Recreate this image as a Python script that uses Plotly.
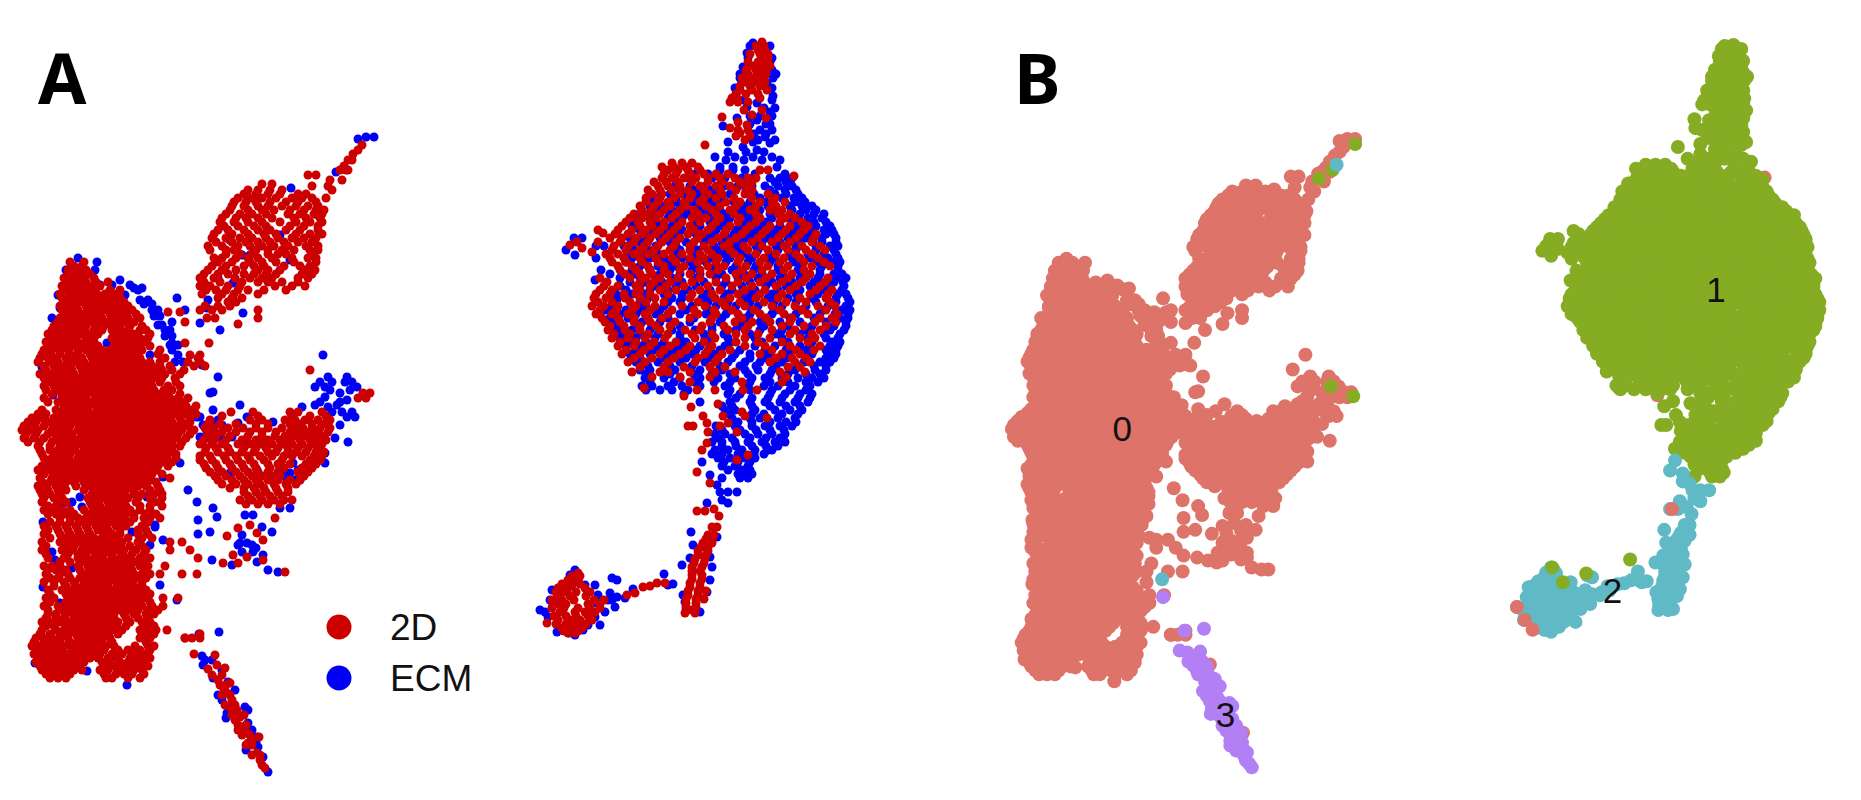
import plotly.graph_objects as go

# Embedding values. Rows are (embedding_2, [embedding_1 values]).
# Cluster 0, sample 2D
c0_2d_rows = [
(262,[70,84]),(270,[68,76,86]),(278,[64,74,84,94]),(286,[62,72,80,90,100]),
(294,[60,70,78,88,97,105,114]),(302,[64,72,80,90,98,106,116,124]),
(310,[62,70,78,88,96,104,114,122,132]),(318,[60,68,78,86,94,102,112,120,128,140]),
(326,[54,62,70,78,86,96,104,112,120,130,142]),(334,[48,56,64,72,82,90,98,116,124,134,150]),
(342,[46,54,62,70,78,86,94,118,126,134,144]),(350,[44,52,60,68,78,86,94,102,110,118,126,134,142,160]),
(358,[40,48,56,66,74,82,92,100,108,116,124,132,140,165,198]),
(366,[44,54,62,70,80,88,96,104,112,120,128,136,144,152,160,170,194,205]),
(374,[40,50,58,66,74,84,92,100,108,116,124,132,140,148,156,165,180]),
(382,[50,58,68,76,84,92,100,110,118,126,134,142,150,160,176]),
(390,[46,58,66,74,82,90,98,106,114,122,130,138,146,154,164,172]),
(398,[44,62,70,78,86,96,104,112,120,128,136,144,152,162,170,178,188]),
(406,[64,72,80,88,96,104,112,120,128,136,144,152,160,170,178,186,196]),
(414,[38,46,60,68,76,84,92,100,108,116,124,132,140,148,158,166,176,186,196]),
(422,[28,36,48,58,66,74,82,92,100,108,116,124,132,140,148,156,164,172,182,190]),
(430,[22,30,38,52,60,68,78,86,94,102,110,118,126,134,142,150,158,166,174,182,194]),
(438,[24,34,44,56,64,72,80,88,96,104,112,120,128,136,144,152,160,168,176,186]),
(446,[38,50,60,68,76,84,92,100,108,116,124,132,140,148,156,164,172,180]),
(454,[42,54,62,70,80,88,96,104,112,120,128,136,144,152,160,168,176]),
(462,[46,56,64,74,82,90,98,106,114,122,130,138,146,154,162,172]),
(470,[38,48,58,66,76,84,92,100,108,116,124,132,140,148,156]),
(478,[40,52,60,68,78,86,94,102,110,118,126,134,142,150,170]),
(486,[38,46,56,64,76,90,98,106,114,122,130,138,146,158]),
(494,[42,50,60,92,100,108,116,124,134,142,154,162]),
(502,[42,58,66,90,98,108,116,124,136,154,160]),
(510,[44,52,62,70,84,94,104,112,122,130,140,150]),
(518,[60,70,78,86,96,106,114,124,134,144,150,160]),
(526,[44,56,66,76,86,96,104,116,126,142]),
(534,[44,60,70,80,90,104,112,120,138,148]),
(542,[42,60,70,78,88,98,106,114,122,138,170,182]),
(550,[42,62,72,82,90,100,108,116,124,136,146,170,190]),
(558,[48,64,78,86,94,102,112,120,128,140,150,198]),
(566,[44,52,60,78,88,96,104,112,120,130,140,148,165]),
(574,[46,60,68,84,92,100,110,118,126,134,142,150,160,182,197]),
(582,[44,54,64,74,84,92,100,108,116,124,132,142]),
(590,[48,62,70,80,88,96,104,112,120,130,138,146]),
(598,[46,54,70,78,86,94,102,110,118,128,136,144,163,178]),
(606,[44,58,68,76,84,92,100,108,116,126,134,142,152,163]),
(614,[48,56,66,74,82,90,98,106,114,124,134,146,154]),
(622,[42,50,60,70,78,86,94,102,110,118,130,142,150]),
(630,[42,56,64,72,80,88,96,104,112,122,140,148,156,167]),
(638,[36,44,52,60,68,78,86,94,102,110,140,150,185,200]),
(646,[32,40,48,56,64,74,82,90,98,106,114,135,148,154]),
(654,[34,42,50,58,66,76,84,92,100,112,122,134,144]),
(662,[36,44,52,60,68,76,84,102,110,120,128,136,146]),
(670,[42,50,58,66,74,82,100,108,118,126,134,142]),
(678,[50,58,66,106,112,128,140]),
# lower right arm
(370,[310]),(393,[363,370]),(398,[358,366]),
(412,[231,253,290,298,322]),(420,[210,250,262,285,295,305,318,330]),
(428,[205,214,228,243,256,268,282,294,303,312,320,330]),
(436,[207,216,230,248,262,275,285,296,305,314,322]),
(444,[200,212,222,238,250,262,272,283,292,302,312,322]),
(452,[205,218,230,242,254,268,276,288,296,306,316,324]),
(460,[200,212,226,238,250,264,282,310,320]),
(468,[206,218,232,244,256,270,284,302,312]),
(476,[215,226,240,252,262,272,280,304]),
(484,[222,236,248,260,274,286,296]),(492,[244,256,266,278,288]),(500,[240,252,262,274,284,292]),
(518,[275]),(525,[250]),(528,[238]),(533,[257]),(536,[227]),(540,[263]),
(555,[233]),(557,[247]),(560,[263]),(563,[223,238]),(572,[285]),
# upper lobe and its tail
(145,[362]),(154,[353]),(166,[344]),(175,[308,316]),(184,[262,272]),(190,[248,258,270,282,332]),
(198,[238,250,262,276,292,302,312,326]),(206,[232,244,258,268,282,296,308,318]),
(214,[226,240,252,266,288,300,314,322]),(222,[220,234,248,262,280,296,310,322]),
(230,[218,228,244,258,270,286,300,318]),(238,[212,226,240,252,266,278,292,304,316]),
(246,[208,222,238,250,262,274,288,306,318]),(254,[226,240,252,268,278,286,312]),
(262,[218,232,250,262,276,294,316]),(270,[208,222,236,258,268,280,305,315]),
(278,[200,214,235,250,262,272,298,308]),(286,[200,210,228,240,275,292,305]),
(294,[202,222,234,258]),(302,[228,236]),(310,[200,212,222,258]),(318,[207,215,258]),
(312,[168,180]),(322,[185]),(324,[238]),(343,[185,209]),(355,[190,200]),
(634,[200]),(638,[185,192]),
# cells of this cluster lying inside the other clusters
(668,[225]),(737,[259]),(176,[794]),(388,[644]),(396,[684]),
]
c0_2d_between = [
(266,[74,82]),(274,[70,80,90]),(282,[68,78,86,96,108]),(290,[66,75,84,93,110,120]),
(298,[62,68,76,85,94,102,112,120]),(306,[60,68,76,86,94,102,110,120,128]),
(314,[66,74,84,92,100,110,118,126,136]),(322,[58,66,74,82,90,100,108,116,124,134]),
(330,[52,60,68,76,84,94,102,112,120,128,140,146]),(338,[50,60,68,76,86,94,112,120,130,140,148]),
(346,[48,58,66,74,82,90,98,114,122,130,140,150]),(354,[42,50,60,70,78,90,98,106,114,122,130,138,158]),
(362,[38,50,58,68,76,84,94,102,110,118,126,134,142,150,160,188,200]),
(370,[46,56,64,72,82,90,98,106,114,122,130,138,146,154,162,172,184]),
(378,[44,54,62,72,80,88,96,104,114,122,130,138,146,154,162,175]),
(386,[44,54,62,72,80,88,96,104,112,120,128,136,144,152,168,180]),
(394,[52,62,70,78,86,94,102,110,118,126,134,142,150,158,168,180]),
(402,[48,58,66,74,82,92,100,108,116,124,132,140,148,156,166,174,184]),
(410,[42,56,64,72,80,88,98,106,114,122,130,138,146,154,164,172,182,192]),
(418,[32,42,54,62,70,78,88,96,104,112,120,128,136,144,152,162,170,180,190]),
(426,[24,34,44,54,62,70,80,88,96,104,112,120,128,136,144,152,160,170,178,188]),
(434,[26,36,48,56,64,72,82,90,98,106,114,122,130,138,146,154,162,170,178,190]),
(442,[28,40,52,60,68,76,84,92,100,108,116,124,132,140,148,156,164,172,182]),
(450,[40,50,58,66,74,84,92,100,108,116,124,132,140,148,156,164,172]),
(458,[44,52,60,68,78,86,94,102,110,118,126,134,142,150,158,166,176]),
(466,[42,52,60,70,78,86,94,102,110,118,126,134,142,150,158,168]),
(474,[44,54,62,72,80,88,96,104,112,120,128,136,144,152,162]),
(482,[42,50,58,66,74,84,92,100,108,116,124,132,140,148,156]),
(490,[40,48,58,66,84,94,102,110,118,126,134,150,160]),
(498,[44,54,62,88,96,104,112,120,128,138,150,162]),(506,[48,56,92,100,110,118,126,140,150,162]),
(514,[48,56,64,74,90,100,108,118,126,134,146,156]),(522,[50,60,70,80,90,100,110,120,130,148]),
(530,[48,58,68,78,88,98,108,120,138,146]),(538,[50,64,74,84,94,102,110,118,128,142,152]),
(546,[46,66,74,84,94,102,110,118,130,142]),(554,[46,68,78,86,96,104,112,122,132,144]),
(562,[60,70,82,90,98,106,116,124,134,144]),(570,[48,56,66,80,90,98,106,116,124,132,146]),
(578,[50,58,70,80,88,96,104,114,122,130,138,146]),(586,[54,66,76,84,92,100,108,118,126,134,142]),
(594,[50,66,74,84,92,100,108,116,124,134,142,150]),(602,[50,66,74,82,90,98,106,114,122,132,140,150]),
(610,[48,62,72,80,88,96,104,112,120,130,138,148,158]),(618,[46,56,64,74,82,90,98,106,114,126,138,148]),
(626,[46,54,66,74,82,90,98,106,116,126,144,154]),(634,[40,50,60,68,76,84,92,100,108,118,144,154]),
(642,[34,44,52,60,70,78,86,94,102,112,146]),(650,[36,46,54,62,72,80,88,96,104,118,128,140,150]),
(658,[38,46,54,62,72,80,90,98,108,118,130,140,150]),(666,[40,48,56,64,72,80,104,114,124,132,140,148]),
(674,[46,54,62,70,104,116,124,132,144]),
(416,[222,258,292,310,326]),(424,[208,220,236,256,268,290,300,312,324]),
(432,[210,222,236,250,262,276,290,300,310,318,328]),(440,[204,214,226,242,256,268,280,290,300,310,318,326]),
(448,[206,216,228,244,256,266,278,288,298,308,318]),(456,[200,210,224,236,248,260,272,284,292,302,314,322]),
(464,[204,216,230,242,254,268,278,290,306,316]),(472,[210,222,236,248,258,268,278,298,308]),
(480,[218,232,244,256,268,278,290,300]),(488,[230,244,254,264,276,288]),(496,[248,260,270,282]),(504,[246,258,268,280]),
(150,[358]),(160,[348,352]),(170,[340,348,346]),(180,[330,342]),(186,[328,312]),
(194,[244,256,268,280,298,306]),(202,[234,246,256,270,286,298,316]),(210,[230,248,262,274,290,304,316,324]),
(218,[222,236,246,258,272,294,306,320]),(226,[224,238,254,266,290,304,318]),(234,[214,232,248,264,276,296,310,322]),
(242,[216,232,246,258,270,284,298,312]),(250,[210,226,234,256,268,282,294,310,318]),
(258,[214,222,236,248,258,272,292,308,316]),(266,[212,226,244,254,264,284,300,310]),
(274,[204,218,228,244,254,266,276,302,312]),(282,[204,220,242,258,268,282,298]),
(290,[206,216,226,238,248,264,286]),(298,[218,232,242]),(306,[205,218,230]),
]
# Cluster 0, sample ECM
c0_ecm_rows = [
(137,[366,374]),(139,[358]),(172,[336]),(188,[291]),(214,[315]),(235,[280]),(240,[230]),
(255,[242,250]),(258,[78]),(260,[290]),(262,[97]),(270,[66,95]),(278,[218]),(280,[70,120]),
(283,[233]),(285,[100,112,130]),(290,[138]),(295,[58,125]),(298,[177]),(300,[140,148,208]),
(308,[207,60]),(310,[152,158,185]),(313,[243]),(318,[52]),(322,[172]),(323,[200]),(330,[165,170,220]),
(343,[107,172]),(345,[170,178]),(355,[150,323]),(362,[175,183]),(365,[202]),(367,[42]),(377,[218,328,347]),
(387,[315,325,357]),(392,[213]),(393,[340,210]),(395,[53]),(397,[325]),(400,[347]),
(405,[240,315,337]),(407,[302,328]),(410,[213]),(417,[197,200,247,347,355]),(420,[218]),(423,[238]),
(422,[273]),(433,[207,215]),(437,[200,208]),(438,[335]),(440,[245]),(442,[348]),
(453,[325]),(460,[320]),(463,[180,293,325]),(470,[257]),(473,[230,290]),(475,[283]),(477,[163]),(480,[287]),
(490,[188]),(497,[80,147]),(502,[197,72]),(503,[64]),(507,[82]),(508,[213,280,290]),(515,[245,253]),
(517,[217]),(520,[198]),(522,[43]),(525,[155]),(527,[155,262]),(532,[132,210,272]),(534,[198]),
(540,[163]),(543,[240,247]),(545,[150]),(552,[52,242,253]),(555,[263]),(560,[55,212]),(562,[257]),
(565,[232]),(568,[72]),(570,[268]),(572,[278]),(585,[160]),(587,[43]),(603,[60]),
(645,[70]),(657,[113]),(663,[35]),(671,[87]),(685,[127]),
(288,[134,142]),(304,[144,152]),(316,[154,160]),(325,[158,162]),(336,[165,172]),(350,[172]),(355,[178]),
(382,[320,332,352,345]),(390,[330,350]),(402,[340,320]),(412,[332,342,352]),(425,[340,203,222,212]),
(437,[220,232]),(480,[295,300]),(470,[298,280]),(545,[238,252]),(535,[242]),(548,[256]),
]
# Cluster 1, sample 2D
c1_2d_rows = [
(42,[762]),(50,[758,765]),(58,[762,768]),(66,[752,762,770]),(74,[748,758,766]),(82,[745,755,765]),
(90,[740,752,767]),(98,[737,732,760]),(115,[752]),(117,[722]),(118,[766]),(125,[747]),(128,[730]),(133,[740]),
(140,[745]),(145,[705]),(163,[672,682,692]),(170,[668,678,688,700,760,768]),
(178,[662,672,684,696,708,720,735,748,756]),(186,[658,668,680,700,716,730,745]),
(194,[652,662,680,692,708,722,745,768]),(202,[646,658,668,684,700,726,740,760,772,785]),
(210,[642,652,664,680,694,712,730,750,770,782]),(218,[630,642,656,672,692,706,720,740,760,785,795]),
(226,[622,640,652,664,678,690,712,730,750,770,790,808]),(230,[598]),(233,[603]),
(234,[615,628,642,656,670,688,702,724,742,762,782,800,816]),
(242,[577,598,620,634,648,662,676,694,712,730,752,772,790,812]),(245,[570]),(248,[582]),
(250,[612,626,640,654,670,690,708,730,748,768,788,806,825]),(252,[592]),
(258,[610,624,640,656,672,690,704,718,740,764,784,800,818]),
(266,[618,632,648,664,684,708,724,746,768,788,812,830]),
(274,[625,640,652,668,690,710,736,752,772,792,810]),
(282,[607,640,654,670,692,716,738,760,782,802,825]),
(290,[600,612,640,660,676,700,720,745,765,790,816,832]),
(298,[594,606,625,640,655,690,715,730,756,778,800,826]),
(306,[592,604,618,636,655,682,705,725,745,772,795,818,835]),
(314,[596,612,628,645,668,698,716,738,760,784,808,837]),
(322,[605,620,634,650,675,710,735,752,770,790,815,836]),
(330,[608,625,640,660,685,700,728,745,772,795,820]),
(338,[612,628,645,665,695,715,745,770,800,815]),
(346,[618,634,650,670,690,712,745,765,790,820]),
(354,[622,640,660,680,705,722,760,782,800]),(362,[628,645,668,695,715,770,795,810]),
(372,[632,660,668,690,715,735,780,805]),(382,[690,742,782]),(390,[697,715,743,757]),
(404,[718]),(407,[691]),(412,[742]),(416,[703,723,745]),(418,[767]),(423,[707,728]),(426,[688,693,720]),
(432,[737,708]),(443,[707]),(450,[702]),(455,[748]),(460,[737]),
]
c1_2d_between = [
(46,[756,764]),(54,[750,760,768]),(62,[748,758,768]),(70,[746,756,764]),(78,[742,752,762]),(86,[740,750,760]),
(94,[736,746,758]),(102,[730,738,748]),(110,[744,762]),(122,[738]),(130,[738,748]),(136,[736,750]),
(167,[662,674,686,698]),(174,[664,676,690,704,716,728]),(182,[654,666,678,692,708,722,740,752]),
(190,[648,660,672,688,704,720,736,752]),(198,[646,660,674,690,704,716,734,752,775]),
(206,[640,654,670,686,706,720,736,756,776]),(214,[634,648,660,676,698,716,734,756,778,790]),
(222,[626,638,650,664,682,700,716,738,756,780,802]),(230,[618,632,646,660,674,694,708,726,746,766,786,804]),
(238,[610,622,636,650,666,680,698,718,736,758,778,796,814]),(246,[614,628,644,658,674,690,704,724,744,762,784,802,820]),
(254,[606,618,634,648,664,682,700,712,734,756,776,796,812]),(262,[612,626,642,658,676,698,716,738,760,780,804,824]),
(270,[620,636,650,664,680,700,718,742,762,784,804]),(278,[600,630,646,660,678,700,726,746,766,788,806,828]),
(286,[604,618,636,650,666,684,708,732,752,776,796,820]),(294,[596,610,624,636,650,668,692,712,738,760,782,810,828]),
(302,[598,612,630,646,664,698,722,740,764,786,806,830]),(310,[600,616,632,650,672,694,714,732,754,780,802,826]),
(318,[602,618,634,648,662,690,712,742,766,792,820,832]),(326,[610,624,640,656,670,702,724,748,782,804,826]),
(334,[614,630,648,668,692,712,736,758,790,812]),(342,[620,636,654,676,704,736,758,782,808]),
(350,[626,644,664,686,708,730,772,796,814]),(358,[634,652,674,698,718,776,792,806]),
(367,[640,664,684,710,725,788,800]),(377,[652,680,710,786]),
]
# Cluster 1, sample ECM
c1_ecm_rows = [
(43,[753]),(53,[747]),(62,[770]),(67,[743]),(70,[772]),(78,[773,740]),(83,[767]),(96,[773]),(103,[757]),
(107,[747]),(112,[770]),(118,[737]),(120,[757]),(126,[723]),(130,[760,772]),(137,[765]),(142,[753,728]),
(143,[770]),(147,[743]),(150,[757]),(157,[753,735,772,715]),(167,[720,733,777]),
(170,[720,733,745]),(178,[690,712,725,742,770,780,792]),(186,[675,690,706,724,738,752,765,778,792]),
(194,[670,686,700,714,730,754,775,786,798]),(202,[650,676,692,706,716,734,750,766,795,805]),
(210,[660,672,688,702,720,740,760,776,792,806,816]),(218,[650,668,682,700,714,730,750,772,790,808,822]),
(226,[632,660,672,700,722,740,760,780,800,816,830]),(234,[650,664,678,696,712,734,752,772,792,808,826,834]),
(238,[582,574]),(242,[640,670,686,704,722,742,762,780,800,822,836]),(246,[596,604]),
(250,[634,648,680,698,718,740,758,778,796,816,834,566]),(255,[575]),(258,[632,650,664,682,698,712,730,752,774,792,810,828,838,596]),
(266,[640,658,676,696,716,736,756,778,800,822,838]),(270,[601]),(280,[595]),
(274,[610,634,660,680,700,722,744,762,782,802,820,834,842]),(282,[630,646,662,682,704,726,750,772,792,814,834,843]),
(290,[626,650,668,688,710,732,755,778,800,824,842]),(298,[618,648,672,682,702,724,744,768,788,812,836,848]),
(306,[612,646,664,692,716,736,758,782,806,828,846]),(314,[620,636,656,680,706,726,750,772,796,820,835,848]),
(322,[612,642,660,690,720,744,760,780,800,826,846]),(330,[616,632,650,672,695,712,736,760,782,806,830,844]),
(338,[620,636,655,680,705,728,755,782,808,826,838]),(346,[626,642,660,680,700,725,755,775,800,810,830,838]),
(354,[630,650,670,692,714,735,750,770,790,812,832,836]),(362,[636,658,680,705,728,745,760,782,804,820,830]),
(370,[640,650,675,700,722,745,758,772,795,815,826]),(378,[645,664,680,700,718,735,752,765,782,798,812,824]),
(386,[642,652,668,682,700,725,748,764,778,795,810]),(394,[684,728,740,770,785,800,812]),
(402,[700,730,750,765,780,795,808]),(410,[725,735,755,775,790,802]),(418,[732,750,760,778,795]),
(426,[716,735,752,765,780,792]),(434,[715,725,745,758,772,785]),(442,[712,722,735,748,762,775,785]),
(450,[715,728,742,755,768,772]),(458,[718,730,745,755]),(466,[722,735,748]),(474,[738,745,752]),
]
c1_ecm_between = [
(46,[750,770]),(58,[748,772]),(74,[776,740]),(88,[772,735]),(100,[772,744]),(108,[764,775]),(116,[760,772,750]),
(124,[766,750,770]),(134,[754,766]),(140,[758,775]),(152,[764,746,728]),(160,[726,744,762,780]),
(174,[785,755,708,695]),(182,[775,790,786]),(190,[680,696,712,746,770,785,796]),
(198,[656,676,696,710,722,760,782,794,802]),(206,[650,664,680,698,712,744,768,790,802,812]),
(214,[640,656,670,686,708,726,746,770,800,814,824]),(222,[636,656,676,694,710,726,746,766,796,814,826]),
(230,[640,654,668,682,716,736,756,776,796,812,824,832]),(238,[630,644,660,676,708,728,748,768,788,806,822,836]),
(246,[624,656,676,692,714,736,756,776,796,816,830,838]),(254,[628,644,658,676,694,724,746,770,790,808,824,836]),
(262,[626,644,670,690,706,726,748,770,794,816,832,840]),(270,[632,650,670,692,714,732,754,778,798,820,838]),
(278,[620,640,656,672,694,716,738,758,780,800,818,836,846]),(286,[620,640,656,676,696,722,742,766,786,810,830,844]),
(294,[616,632,644,664,682,706,726,750,772,796,818,838,846]),(302,[616,640,668,680,708,728,750,774,796,816,836,850]),
(310,[606,626,642,660,686,708,730,752,776,800,822,842,850]),(318,[610,628,648,668,694,722,746,768,790,814,840,848]),
(326,[618,636,654,680,712,738,764,788,812,834,846]),(334,[622,640,658,680,704,724,750,776,800,824,840]),
(342,[628,646,664,686,710,730,762,788,812,832,840]),(350,[636,654,674,696,720,740,765,786,806,826,836]),
(358,[640,664,686,708,732,750,766,786,808,826,834]),(366,[648,670,692,720,740,756,776,798,814,826]),
(374,[646,670,694,712,730,748,770,788,806,820]),(382,[650,674,694,714,730,750,770,788,806,818]),
(390,[646,660,672,688,730,750,772,790,806]),(398,[736,752,768,782,798,810]),(406,[722,732,752,770,786,800]),
(414,[730,752,764,782,798]),(422,[738,752,770,786,796]),(430,[722,740,756,770,784]),(438,[718,732,750,766,780]),
(446,[722,736,752,766,778]),(454,[712,722,738,754,764]),(462,[724,738,750]),(470,[728,742,750]),(478,[722,740,748]),
]
# Cluster 2, sample 2D
c2_2d_rows = [
(472,[697]),(483,[710]),(511,[697,705]),(509,[714]),(516,[719]),(527,[712,717]),(535,[708,714]),(543,[703,712]),
(551,[698,708]),(559,[695,705]),(567,[692,702]),(575,[692,702]),(583,[690,700,665]),(591,[688,698,706]),
(599,[686,696,704]),(607,[686,696]),(613,[685,695]),(595,[627]),(593,[635]),(587,[643]),(586,[650]),(583,[657]),
(573,[578]),(580,[568,578]),(588,[558,568,585]),(596,[558,570,586]),(604,[558,566,588,600]),
(612,[560,575,585,595]),(620,[558,570,580,592]),(623,[547]),(628,[562,572,582]),(633,[568,575]),
(576,[572,580]),(584,[562,572,580]),(592,[556,564,576,590]),(600,[552,562,574,594,604]),
(608,[552,564,578,590,600]),(616,[554,566,576,588]),(624,[556,566,576,586]),(631,[564,578]),
(539,[706,712]),(547,[701,708]),(555,[698,706]),(563,[694,704]),(571,[692,700]),(579,[692,702]),
(587,[690,700]),(595,[688,698]),(603,[686,696]),(610,[686,692]),
]
# Cluster 2, sample ECM
c2_ecm_rows = [
(462,[702]),(475,[710]),(485,[717]),(492,[720,728,737]),(500,[722]),(503,[728,707]),(532,[691]),(537,[717]),
(545,[693]),(557,[710]),(558,[690]),(565,[682]),(567,[712]),(574,[664]),(578,[612]),(580,[617,710]),(584,[673]),
(585,[668,585]),(589,[633]),(592,[707,588]),(595,[683,598]),(593,[610]),(598,[625]),(602,[685]),(612,[700,605]),
(570,[575]),(610,[540]),(617,[548,595]),(605,[553]),(632,[557]),(633,[569]),(630,[583]),(607,[615]),
(603,[597]),(597,[617]),(625,[588]),(585,[572,595]),(600,[550,608,612]),(575,[570]),(625,[600]),(635,[575]),
(590,[552]),(612,[545]),
]
# Cluster 3, sample 2D
c3_2d_rows = [
(654,[194]),(655,[215]),(665,[217]),(669,[208]),(680,[218]),(683,[230]),(687,[223]),(693,[227]),(700,[232]),
(707,[230]),(710,[237]),(717,[240]),(720,[235]),(727,[242]),(730,[238]),(733,[247]),(740,[252]),(743,[248]),
(753,[257]),(760,[260]),(768,[265]),(675,[212,222]),(685,[226,220]),(695,[222,230]),(705,[225,235]),(715,[232,244]),
(725,[238,246]),(735,[242,250]),(745,[252,246]),(755,[252,260]),(765,[262]),
]
# Cluster 3, sample ECM
c3_ecm_rows = [
(600,[177]),(632,[219]),(634,[199]),(656,[202]),(670,[222]),(678,[213]),(690,[235]),(700,[222]),(707,[245]),(713,[227]),
(723,[248]),(737,[257]),(747,[258]),(750,[246]),(757,[263]),(772,[268]),(660,[205,212]),(665,[203]),(682,[228]),
(695,[218]),(710,[248]),(718,[226]),(730,[252]),(742,[256]),
]
# A few cells whose cluster differs from their neighbours
other_x = [540,548,556,699,374,337,351,349,372,355,656,576,587,611,176]
other_y = [610,623,633,511,142,177,168,387,397,163,562,570,585,576,582]
other_cluster = ["0","0","0","0","1","1","1","1","1","2","1","1","1","1","2"]
cluster_labels = ["0","1","2","3"]
cluster_label_x = [135,744,638,241]
cluster_label_y = [433,293,597,722]
legend_labels = ["2D","ECM"]
legend_x = [339,339]
legend_y = [627,678]
panel_letters = ["A","B"]

RED, BLUE = "#CC0000", "#0000F5"
CLUSTER_COLORS = {"0":"#DD7369","1":"#86AC23","2":"#60BAC6","3":"#B37FF5"}

def flat(*tables):
    xs, ys = [], []
    for rows in tables:
        for y, row in rows:
            xs += row
            ys += [y] * len(row)
    return xs, ys

fig = go.Figure()
def dots(xs, ys, color, size, axes, name):
    fig.add_trace(go.Scatter(x=xs, y=ys, mode="markers", name=name, xaxis="x"+axes, yaxis="y"+axes,
                             marker=dict(color=color, size=size, line=dict(width=0)),
                             hoverinfo="skip", showlegend=False, cliponaxis=False))

# Panel A: coloured by sample
ex, ey = flat(c0_ecm_rows, c1_ecm_rows, c1_ecm_between, c2_ecm_rows, c3_ecm_rows)
rx, ry = flat(c0_2d_rows, c0_2d_between, c1_2d_rows, c1_2d_between, c2_2d_rows, c3_2d_rows)
dots(ex, ey, BLUE, 9, "", "ECM")
dots(rx, ry, RED, 9, "", "2D")
dots(legend_x[:1], legend_y[:1], RED, 25, "", "2D key")
dots(legend_x[1:], legend_y[1:], BLUE, 25, "", "ECM key")

# Panel B: same cells, coloured by cluster
for cid, tables in [("0",(c0_2d_rows,c0_2d_between,c0_ecm_rows)),("3",(c3_2d_rows,c3_ecm_rows)),
                    ("1",(c1_2d_rows,c1_2d_between,c1_ecm_rows,c1_ecm_between)),("2",(c2_2d_rows,c2_ecm_rows))]:
    px, py = flat(*tables)
    dots(px, py, CLUSTER_COLORS[cid], 14, "2", "cluster "+cid)
dots(other_x, other_y, [CLUSTER_COLORS[c] for c in other_cluster], 14, "2", "other")
fig.add_trace(go.Scatter(x=cluster_label_x, y=cluster_label_y, text=cluster_labels, mode="text",
                         xaxis="x2", yaxis="y2", showlegend=False, hoverinfo="skip",
                         textfont=dict(family="Liberation Sans", size=35, color="#111111")))

for lab, lx, ly in zip(legend_labels, legend_x, legend_y):
    fig.add_annotation(x=388, y=ly, text=lab, xref="x", yref="y", xanchor="left", yanchor="middle",
                       showarrow=False, font=dict(family="Liberation Sans", size=37, color="#111111"))
for lab, px_ in zip(panel_letters, [62/1861, 1037/1861]):
    fig.add_annotation(x=px_, y=1-77/800, text="<b>"+lab+"</b>", xref="paper", yref="paper",
                       xanchor="center", yanchor="middle", showarrow=False,
                       font=dict(family="Noto Sans", size=70, color="#000000"))

hidden = dict(visible=False, showgrid=False, zeroline=False, fixedrange=True)
fig.update_layout(
    width=1861, height=800, margin=dict(l=0,r=0,t=0,b=0), paper_bgcolor="white", plot_bgcolor="white",
    xaxis=dict(domain=[0,931/1861], range=[0,931], **hidden),
    yaxis=dict(domain=[0,1], range=[800,0], **hidden),
    xaxis2=dict(domain=[931/1861,1], range=[-61,892.8], anchor="y2", **hidden),
    yaxis2=dict(domain=[0,1], range=[805,-3.5], anchor="x2", **hidden),
)
fig.write_html("out.html", config={"displayModeBar": False}, post_script="document.body.style.margin='0';")
